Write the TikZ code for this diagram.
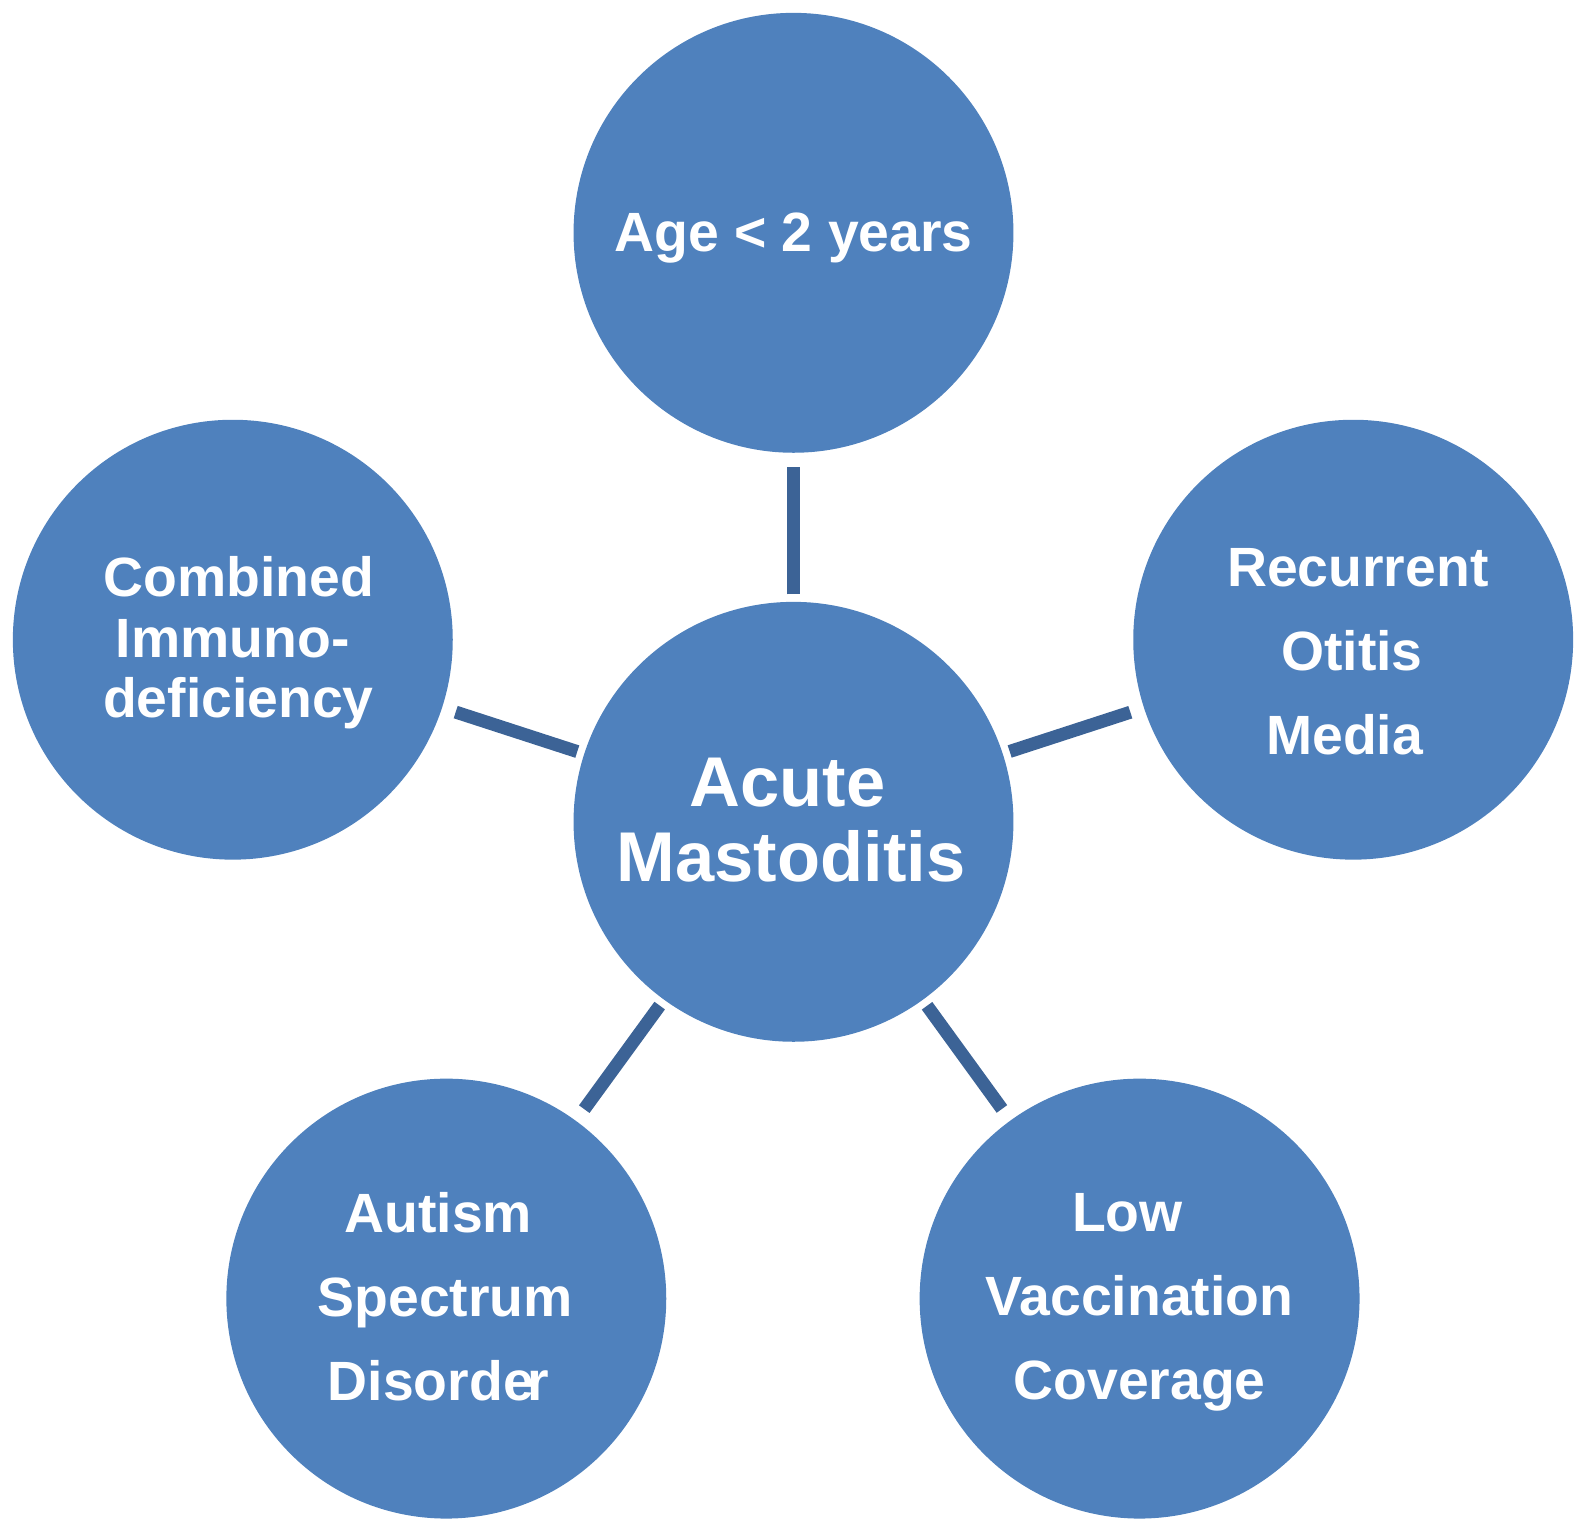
\documentclass[tikz,border=0pt]{standalone}
\usepackage{fontspec}
\setmainfont{Liberation Sans}
\usetikzlibrary{positioning}
\definecolor{accent}{RGB}{79,129,189}
\definecolor{linkblue}{RGB}{60,99,150}
% move one centred line sideways without changing its width
\newcommand{\nudge}[2]{\hspace*{#1}#2\hspace*{-#1}}
\tikzset{
  risk/.style={circle, fill=accent, minimum size=8.8cm, inner sep=0pt},
  lbl/.style={text=white, align=center, inner sep=0pt,
    font=\bfseries\fontsize{31.5}{47.7}\selectfont},
  hublbl/.style={lbl, font=\bfseries\fontsize{40.1}{42.5}\selectfont},
  link/.style={draw=linkblue, line width=7.4pt, shorten <=4pt, shorten >=8pt}
}
\begin{document}
\begin{tikzpicture}[x=0.02cm, y=-0.02cm]
    \useasboundingbox (0,0) rectangle (1587,1532);
    % circles
    \node[risk] (hub)     at (793.5,821.8)   {};
    \node[risk] (age)     at (793.5,232.8)   {};
    \node[risk] (immuno)  at (232.8,639.7)   {};
    \node[risk] (otitis)  at (1353.2,639.7)  {};
    \node[risk] (autism)  at (446.3,1298.6)  {};
    \node[risk] (vaccine) at (1139.6,1298.6) {};

    % texts
    \node[hublbl] (hub-t) at ([shift={(0,-2)}]hub)
      {\nudge{-3.5pt}{Acute}\\\nudge{-1.4pt}{Mastoditis}};
    \node[lbl] (age-t) at ([shift={(0,5)}]age) {Age < 2 years};
    \node[lbl, font=\bfseries\fontsize{31.5}{34.5}\selectfont] (immuno-t)
      at ([shift={(0,3)}]immuno)
      {\nudge{3.5pt}{Combined}\\Immuno-\\\nudge{3.2pt}{deficiency}};
    \node[lbl] (otitis-t) at ([shift={(0,12)}]otitis)
      {\nudge{2.6pt}{Recurrent}\\\nudge{-1.4pt}{Otitis}\\\nudge{-4.9pt}{Media}};
    \node[lbl] (autism-t) at ([shift={(0,-2)}]autism)
      {\nudge{-4.6pt}{Autism}\\\nudge{-1.2pt}{Spectrum}\\\nudge{-4.6pt}{Disorde\kern-0.12em r}};
    \node[lbl] (vaccine-t) at ([shift={(0,4)}]vaccine)
      {\nudge{-6.9pt}{Low}\\Vaccination\\Coverage};

    % links
    \draw[link] (hub) -- (age);
    \draw[link] (hub) -- (immuno);
    \draw[link] (hub) -- (otitis);
    \draw[link] (hub) -- (autism);
    \draw[link] (hub) -- (vaccine);
\end{tikzpicture}
\end{document}
